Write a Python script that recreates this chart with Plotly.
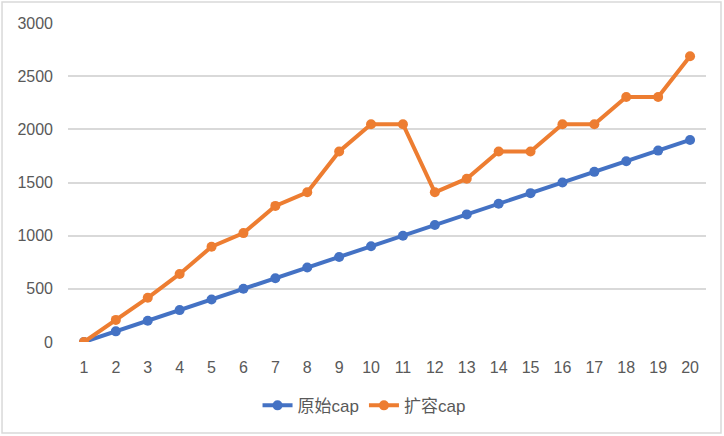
import plotly.graph_objects as go

# ---------- Data ----------
X_LABELS = [str(i) for i in range(1, 21)]
ORIG_CAP = [0, 100, 200, 300, 400, 500, 600, 700, 800, 900,
            1000, 1100, 1200, 1300, 1400, 1500, 1600, 1700, 1800, 1900]
GROW_CAP = [0, 208, 416, 640, 896, 1024, 1280, 1408, 1792, 2048,
            2048, 1408, 1536, 1792, 1792, 2048, 2048, 2304, 2304, 2688]
Y_TICKS = [0, 500, 1000, 1500, 2000, 2500, 3000]

BLUE = '#4472C4'
ORANGE = '#ED7D31'
FONT = 'Liberation Sans, Noto Sans CJK SC, sans-serif'

fig = go.Figure()
for name, ys, color in [('原始cap', ORIG_CAP, BLUE), ('扩容cap', GROW_CAP, ORANGE)]:
    fig.add_trace(go.Scatter(x=X_LABELS, y=ys, mode='lines+markers', name=name,
                             line=dict(color=color, width=4),
                             marker=dict(color=color, size=10)))

fig.update_layout(
    width=724, height=436,
    margin=dict(l=68, r=18, t=23, b=94),
    plot_bgcolor='white', paper_bgcolor='white',
    font=dict(family=FONT, size=16, color='#595959'),
    showlegend=True,
    legend=dict(orientation='h', x=0.464, xanchor='center', y=-0.2, yanchor='middle',
                font=dict(size=17, color='#595959'), tracegroupgap=0),
    shapes=[dict(type='rect', xref='paper', yref='paper',
                 x0=-0.1034, x1=1.0235, y0=-0.285, y1=1.066,
                 line=dict(color='#d9d9d9', width=1.5))],
)
fig.update_xaxes(type='category', range=[-0.5, 19.5], showgrid=False,
                 showline=False, zeroline=False, ticks='', ticklabelstandoff=14,
                 tickfont=dict(size=16))
fig.update_yaxes(range=[0, 3000], tickvals=Y_TICKS, showgrid=True,
                 gridcolor='#d9d9d9', gridwidth=1.5, zeroline=False,
                 showline=False, ticks='', ticklabelstandoff=14,
                 tickfont=dict(size=16))

fig.write_html("out.html", config={'displayModeBar': False},
               post_script="document.body.style.margin='0px';")
